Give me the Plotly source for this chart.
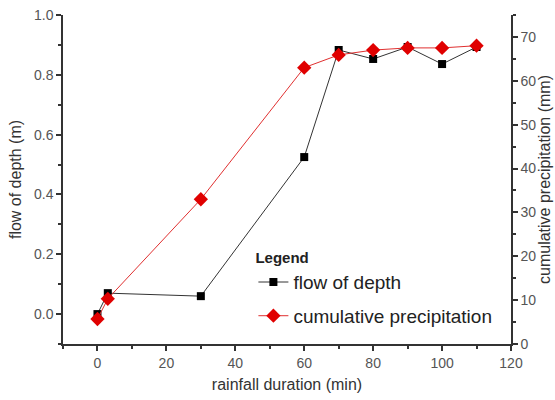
import plotly.graph_objects as go

duration = [0, 3, 30, 60, 70, 80, 90, 100, 110]
flow_depth = [0.0, 0.07, 0.06, 0.525, 0.883, 0.853, 0.893, 0.836, 0.893]
cum_precip = [5.7, 10.3, 33.0, 63.0, 65.9, 67.0, 67.5, 67.5, 68.0]

FONT = "Liberation Sans, Arial, sans-serif"
AXC = "#333333"
TICKC = "#555555"

fig = go.Figure()
fig.add_trace(go.Scatter(
    x=duration, y=flow_depth, name="flow of depth", mode="lines+markers",
    line=dict(color="#333333", width=1),
    marker=dict(symbol="square", size=8, color="black"),
    legendgroup="a", yaxis="y"))
fig.add_trace(go.Scatter(
    x=duration, y=cum_precip, name="cumulative precipitation", mode="lines+markers",
    line=dict(color="#e03030", width=1),
    marker=dict(symbol="diamond", size=11, color="#e00000"),
    legendgroup="b", yaxis="y2"))

axis_common = dict(showline=True, linecolor=AXC, linewidth=1.5, ticks="outside",
                   ticklen=5, tickwidth=1.5, tickcolor=AXC, showgrid=False, zeroline=False,
                   automargin=False,
                   tickfont=dict(family=FONT, size=14, color=TICKC),
                   title_font=dict(family=FONT, size=16, color="#333333"))

fig.update_layout(
    width=555, height=400,
    margin=dict(l=63, r=44, t=15, b=56),
    paper_bgcolor="white", plot_bgcolor="white",
    font=dict(family=FONT),
    xaxis=dict(range=[-10, 120], tick0=0, dtick=20,
               minor=dict(ticks="outside", ticklen=3, dtick=10, tickcolor=AXC, tickwidth=1.5),
               title=dict(text="rainfall duration (min)", standoff=9), **axis_common),
    yaxis=dict(range=[-0.1, 1.0], tick0=0, dtick=0.2, tickformat=".1f",
               minor=dict(ticks="outside", ticklen=3, dtick=0.1, tick0=0, tickcolor=AXC, tickwidth=1.5),
               title=dict(text="flow of depth (m)", standoff=8), **axis_common),
    yaxis2=dict(range=[0, 75], tick0=0, dtick=10, overlaying="y", side="right",
                minor=dict(ticks="outside", ticklen=3, dtick=5, tickcolor=AXC, tickwidth=1.5),
                title=dict(text="cumulative precipitation (mm)", standoff=3), **axis_common),
    legend=dict(x=0.425, y=0.305, xanchor="left", yanchor="top",
                bgcolor="rgba(0,0,0,0)", tracegroupgap=6,
                title=dict(text="<b>Legend</b>", font=dict(family=FONT, size=15, color="#222")),
                font=dict(family=FONT, size=19, color="#222")),
)

fig.write_html("out.html", config={"displayModeBar": False},
               post_script="document.body.style.margin='0';document.body.style.padding='0';")
